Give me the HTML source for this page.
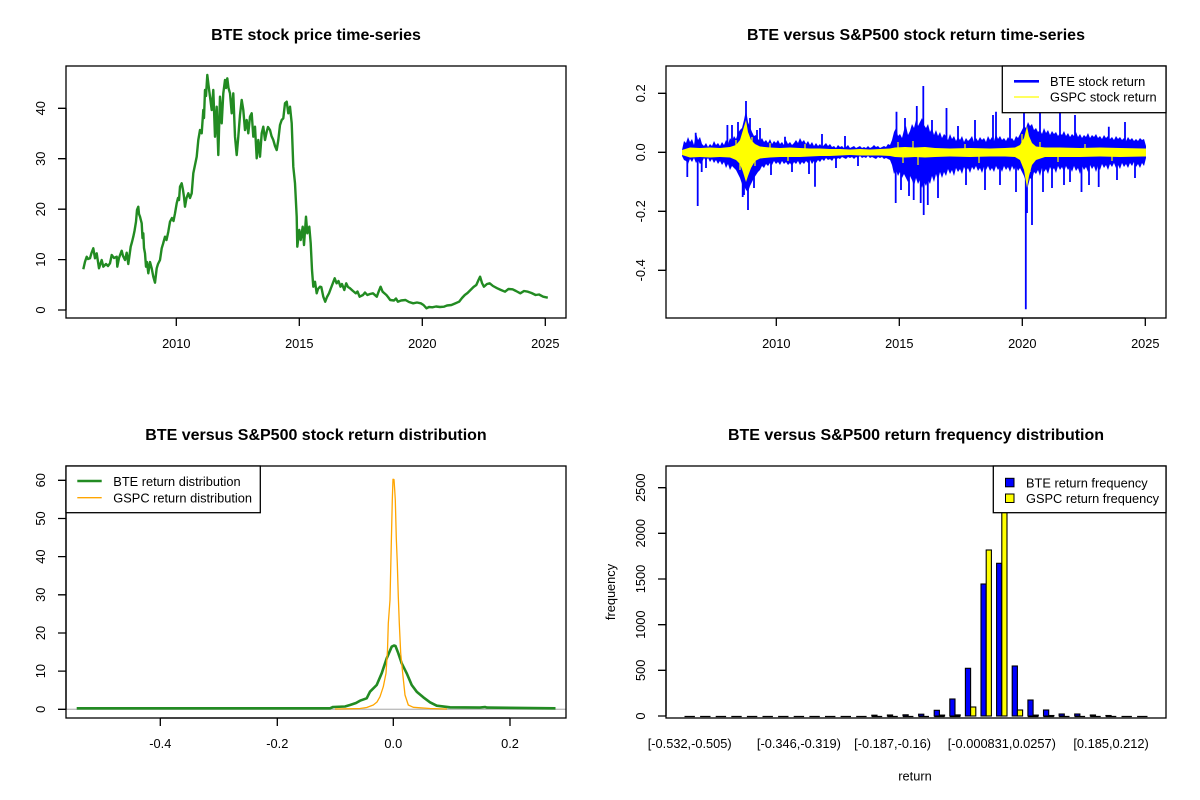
<!DOCTYPE html>
<html><head><meta charset="utf-8"><style>
html,body{margin:0;padding:0;background:#fff;}
svg{display:block;}
text{font-family:"Liberation Sans",Arial,sans-serif;font-size:12.8px;fill:#000;}
.t{font-weight:bold;font-size:16px;text-anchor:middle;}
.c{text-anchor:middle;}
</style></head><body>
<svg width="1200" height="800" viewBox="0 0 1200 800" xmlns="http://www.w3.org/2000/svg">
<rect x="0" y="0" width="1200" height="800" fill="#fff"/>
<defs>
<clipPath id="c1"><rect x="66" y="66" width="500" height="252"/></clipPath>
<clipPath id="c2"><rect x="666" y="66" width="500" height="252"/></clipPath>
<clipPath id="c3"><rect x="66" y="466" width="500" height="252"/></clipPath>
<clipPath id="c4"><rect x="666" y="466" width="500" height="252"/></clipPath>
</defs>

<!-- ============ TOP LEFT ============ -->
<text class="t" x="316" y="40">BTE stock price time-series</text>
<g clip-path="url(#c1)">
<path fill="none" stroke="#228B22" stroke-width="2.4" stroke-linejoin="round" d="M83.3,269.3 L85,261.7 L86.7,256.7 L88,259 L90,258.3 L91.5,253 L93.3,248.3 L95,258.3 L96.7,253.3 L99,268.3 L101.7,260 L103.3,266.7 L106,264 L108,266 L110,263.3 L111.7,255 L114,258 L116.7,256.7 L117.3,266.7 L119,258 L121.7,250.7 L123,256 L125,260 L126.7,252.7 L128.3,264 L130.7,246.7 L132,242 L133.3,236.7 L134.5,231 L136,221.7 L137,210 L138.3,206.7 L139,214 L140,216.7 L141.7,223.3 L142.5,238 L143.3,233.3 L144,248 L145,253.3 L146,266.7 L147,262 L148.3,273.3 L150,262 L151.7,268.3 L153.3,276.7 L155,282.7 L156.7,268.3 L158,264 L160,260 L161.7,248.3 L163,244 L165,236.7 L166.5,240 L168.3,231.7 L170,221.7 L172,218 L173.5,221 L175,213.3 L176.7,203.3 L178,198 L179,200 L180,186.7 L181.7,183.3 L183,190 L184,197 L185,206.7 L186.5,198 L188.3,193.3 L190,198 L191.7,193.3 L193.3,173.3 L195,165 L196.7,156.7 L198.3,140 L200,130 L201.7,133.3 L203.3,110 L204,118 L205,90 L206,96 L207.3,75 L208.5,85 L210,96.7 L211.7,110 L213.3,90 L215,136.7 L216.7,106.7 L218.3,155 L220,96.7 L221.7,123.3 L223.3,93.3 L225,80 L226,88 L227.3,78.3 L228.5,88 L230,93.3 L231.7,113.3 L233.3,93.3 L235,136.7 L236.7,155 L238.3,136.7 L240,115 L241.7,100 L243.3,110 L245,130 L246.7,120 L248.3,133.3 L250,116.7 L251.7,113.3 L253.3,136.7 L255,126.7 L256.7,158.3 L258.3,140 L260,156.7 L261.7,133.3 L263.3,126.7 L265,140 L266.7,131.7 L268,127 L270,130 L271.5,136 L273.3,140 L275,146 L276.7,150 L278.3,140 L280,125 L281.7,120 L283.3,118.3 L285,103.3 L286.7,101.7 L288.3,113.3 L290,106.7 L291.7,123.3 L293.3,166.7 L295,183.3 L296.7,216.7 L297.3,246.7 L299.3,230 L300.7,240 L302.7,226.7 L304,245 L306,216.7 L307.3,233.3 L309.3,226.7 L310.7,243.3 L312,270 L313.3,286.7 L315,281.7 L316.7,293.3 L318,289 L320,286.7 L321.3,287 L323.3,296.7 L325.2,301.7 L327,297 L329,293.3 L331,288 L332.8,283.3 L334.7,278.3 L336.6,283.3 L338.5,281 L340.5,286.7 L342,284 L344.3,290 L346.2,283.3 L348,287 L350,288.3 L353,291 L355.8,293.3 L357.5,291.5 L359.6,296.7 L363,295 L365,292.5 L367.3,295 L370,294 L373,293.3 L376.8,296.7 L378.5,292 L380.6,286.7 L382.6,291.7 L386.4,295 L388,297 L390.2,300 L394,300.5 L396,298.5 L397.9,301.7 L401,300.5 L405.5,300 L409,302 L413.2,303.3 L417,302.5 L420.8,303.3 L423.5,305 L426.5,308.3 L429,307 L432.3,307.3 L436,306.5 L440,307 L443.8,306.7 L447,305.5 L451.4,305 L455,303.5 L459.1,301.7 L462,298 L464.8,295 L467.5,293 L470.5,290 L473.5,287 L476.3,285 L478.5,280 L480.1,276.7 L482,283 L483.9,286.7 L487,284 L489.7,283.3 L493,286 L497.3,288.3 L501,290 L505,291.7 L508.5,289 L512.6,289.3 L516,291 L520.3,293.3 L524,291 L527.9,291.7 L531.5,293 L535.6,295 L539,294.5 L543.2,296.7 L547.8,297.7"/>
</g>
<rect x="66" y="66" width="500" height="252" fill="none" stroke="#000" stroke-width="1.3"/>
<path fill="none" stroke="#000" stroke-width="1.3" d="M176.3,318H545.3 M176.3,318V326 M299.3,318V326 M422.3,318V326 M545.3,318V326 M66,310V108.3 M66,310H58 M66,259.6H58 M66,209.2H58 M66,158.7H58 M66,108.3H58"/>
<text class="c" x="176.3" y="348">2010</text>
<text class="c" x="299.3" y="348">2015</text>
<text class="c" x="422.3" y="348">2020</text>
<text class="c" x="545.3" y="348">2025</text>
<text class="c" transform="rotate(-90 45 310)" x="45" y="310">0</text>
<text class="c" transform="rotate(-90 45 259.6)" x="45" y="259.6">10</text>
<text class="c" transform="rotate(-90 45 209.2)" x="45" y="209.2">20</text>
<text class="c" transform="rotate(-90 45 158.7)" x="45" y="158.7">30</text>
<text class="c" transform="rotate(-90 45 108.3)" x="45" y="108.3">40</text>

<!-- ============ TOP RIGHT ============ -->
<text class="t" x="916" y="40">BTE versus S&amp;P500 stock return time-series</text>
<g clip-path="url(#c2)">
<polygon fill="#0000FF" points="682,150 684,141 686,143 688,137 690,142 692,139 694,145 696,133 698,140 700,137 702,144 704,146 706,143 708,147 710,144 712,146 714,141 716,145 718,143 720,146 722,142 724,145 726,140 728,144 730,138 732,141 734,136 736,139 738,133 740,130 742,128 744,120 746,110 748,122 750,127 752,132 754,136 756,135 758,139 760,141 762,138 764,142 766,140 768,143 770,139 772,144 774,141 776,143 778,140 780,144 782,142 784,145 786,140 788,144 790,142 792,145 794,143 796,140 798,143 800,138 802,142 804,140 806,144 808,141 810,145 812,142 814,146 816,143 818,146 820,144 822,147 824,145 826,143 828,146 830,144 832,147 834,146 836,148 838,145 840,147 842,146 844,148 846,147 848,145 850,148 852,147 854,146 856,148 858,147 860,146 862,148 864,147 866,148 868,146 870,148 872,147 874,145 876,147 878,146 880,148 882,147 884,146 886,147 888,144 890,145 892,140 894,132 896,128 898,136 900,134 902,138 904,130 906,126 908,135 910,131 912,124 914,128 916,120 918,126 920,122 922,118 924,125 926,128 928,124 930,132 932,128 934,135 936,130 938,136 940,132 942,138 944,134 946,136 948,140 950,134 952,139 954,136 956,141 958,137 960,140 962,136 964,142 966,138 968,141 970,139 972,136 974,142 976,138 978,141 980,137 982,140 984,138 986,142 988,136 990,140 992,137 994,141 996,134 998,139 1000,136 1002,140 1004,138 1006,141 1008,137 1010,140 1012,138 1014,141 1016,136 1018,138 1020,134 1022,130 1024,126 1026,128 1028,122 1030,126 1032,124 1034,130 1036,128 1038,132 1040,130 1042,134 1044,128 1046,133 1048,130 1050,135 1052,131 1054,134 1056,132 1058,136 1060,133 1062,135 1064,131 1066,136 1068,133 1070,137 1072,134 1074,136 1076,132 1078,137 1080,134 1082,138 1084,135 1086,137 1088,133 1090,138 1092,135 1094,137 1096,134 1098,138 1100,136 1102,139 1104,135 1106,138 1108,136 1110,139 1112,137 1114,140 1116,136 1118,139 1120,137 1122,140 1124,138 1126,141 1128,137 1130,140 1132,138 1134,141 1136,139 1138,141 1140,138 1142,140 1144,139 1146,146 1146,158 1144,166 1142,163 1140,168 1138,164 1136,167 1134,162 1132,166 1130,163 1128,168 1126,164 1124,167 1122,163 1120,169 1118,165 1116,168 1114,163 1112,167 1110,164 1108,170 1106,165 1104,168 1102,164 1100,170 1098,166 1096,172 1094,166 1092,169 1090,165 1088,172 1086,167 1084,170 1082,166 1080,174 1078,168 1076,171 1074,166 1072,172 1070,167 1068,170 1066,166 1064,172 1062,167 1060,170 1058,166 1056,173 1054,168 1052,171 1050,167 1048,174 1046,169 1044,172 1042,168 1040,176 1038,170 1036,174 1034,172 1032,180 1030,178 1028,186 1026,182 1024,176 1022,172 1020,168 1018,171 1016,166 1014,170 1012,166 1010,172 1008,167 1006,170 1004,166 1002,172 1000,167 998,170 996,166 994,172 992,168 990,171 988,166 986,170 984,167 982,173 980,168 978,171 976,166 974,170 972,167 970,173 968,168 966,171 964,167 962,174 960,169 958,172 956,168 954,176 952,170 950,174 948,169 946,176 944,172 942,178 940,172 938,180 936,174 934,182 932,176 930,184 928,180 926,186 924,182 922,188 920,180 918,184 916,178 914,186 912,180 910,176 908,182 906,178 904,174 902,178 900,172 898,176 896,170 894,174 892,165 890,160 888,159 886,158 884,159 882,157 880,158 878,157 876,159 874,158 872,157 870,158 868,156 866,158 864,157 862,158 860,156 858,158 856,157 854,159 852,157 850,158 848,157 846,159 844,158 842,157 840,159 838,158 836,160 834,158 832,161 830,159 828,160 826,158 824,161 822,159 820,162 818,160 816,163 814,161 812,164 810,160 808,163 806,161 804,164 802,162 800,165 798,161 796,164 794,162 792,166 790,163 788,165 786,162 784,164 782,161 780,165 778,162 776,164 774,161 772,165 770,163 768,166 766,164 764,168 762,166 760,170 758,172 756,175 754,178 752,182 750,186 748,192 746,190 744,186 742,184 740,178 738,174 736,170 734,168 732,166 730,170 728,164 726,168 724,162 722,165 720,161 718,164 716,160 714,163 712,159 710,162 708,158 706,161 704,158 702,162 700,164 698,160 696,163 694,158 692,162 690,159 688,164 686,161 684,160 682,156"/>
<path fill="none" stroke="#0000FF" stroke-width="1.8" d="M687.3,152V177 M697.7,152V206 M695.7,152V132.7 M701.7,152V172 M706,152V168 M727.4,152V125 M732,152V125 M738,152V122 M742.7,152V197 M744,152V195 M746,152V101 M748,152V210 M750,152V118 M754,152V188 M757,152V130 M760,152V128 M771,152V175 M785,152V136.7 M792,152V172 M809,152V174 M815,152V186.7 M822,152V134 M836,152V168 M845,152V136 M858,152V166 M895.7,152V203 M896.5,152V111.7 M901,152V190 M905,152V118 M909,152V196 M913.7,152V200 M916.8,152V106 M920.7,152V203 M923.3,152V86 M923.7,152V215 M927.8,152V205 M932,152V120 M938,152V198 M946.5,152V108 M958,152V126 M966,152V185 M975,152V120 M985,152V190 M993,152V115 M996,152V111.7 M1000,152V185 M1010,152V118 M1016,152V192 M1024,152V110 M1025.8,152V309.3 M1027,152V213 M1032,152V225 M1040,152V100 M1043,152V192 M1052,152V188 M1060,152V108 M1064,152V185 M1070,152V182 M1075,152V115 M1081.5,152V192 M1089,152V185 M1098.7,152V187 M1108.8,152V126.7 M1117,152V180 M1125,152V122 M1135,152V178"/>
<polygon fill="#FFFF00" points="682,150 690,147.5 700,148 710,147.5 720,148 730,147 736,145 740,140 743,130 746,120 748,132 751,140 755,144 760,146.5 770,147.5 780,148 790,147.5 800,148 810,148.5 820,148.5 830,149 840,149 850,149.5 860,149 870,149.5 880,149 890,148.5 895,147.5 905,147 915,147.5 925,147 935,148 950,148.5 970,148 990,148.5 1005,148 1015,147.5 1020,145 1024,138 1027,126 1029,136 1032,143 1036,146.5 1045,147.5 1060,147.5 1080,148 1100,147.5 1120,148 1146,148.5 1146,156.5 1120,157 1100,156.5 1080,157 1060,157 1045,157 1036,160 1032,165 1029,176 1027,188 1024,170 1020,160 1015,157 1005,156.5 990,156.5 970,157 950,156.5 935,157 925,157.5 915,157 905,157.5 895,157 890,156 880,155.5 870,155.5 860,155.5 850,155 840,155.5 830,156 820,156 810,156.5 800,157 790,157 780,157 770,157.5 760,158.5 755,161 751,168 748,176 746,182 743,172 740,164 736,160 730,157.5 720,157 710,157.5 700,157 690,157.5 682,155"/>
<path fill="none" stroke="#FFFF00" stroke-width="1.2" d="M736,152V140 M740,152V170 M752,152V137 M755,152V166 M770,152V143 M788,152V161 M805,152V144 M898,152V142 M903,152V163 M913,152V141 M918,152V165 M965,152V144 M979,152V163 M1022,152V134 M1030,152V172 M1040,152V142 M1058,152V162 M1085,152V144 M1112,152V161"/>
</g>
<rect x="666" y="66" width="500" height="252" fill="none" stroke="#000" stroke-width="1.3"/>
<path fill="none" stroke="#000" stroke-width="1.3" d="M776.3,318H1145.3 M776.3,318V326 M899.3,318V326 M1022.3,318V326 M1145.3,318V326 M666,93.3V270.3 M666,93.3H658 M666,152.3H658 M666,211.3H658 M666,270.3H658"/>
<text class="c" x="776.3" y="348">2010</text>
<text class="c" x="899.3" y="348">2015</text>
<text class="c" x="1022.3" y="348">2020</text>
<text class="c" x="1145.3" y="348">2025</text>
<text class="c" transform="rotate(-90 645 93.3)" x="645" y="93.3">0.2</text>
<text class="c" transform="rotate(-90 645 152.3)" x="645" y="152.3">0.0</text>
<text class="c" transform="rotate(-90 645 211.3)" x="645" y="211.3">-0.2</text>
<text class="c" transform="rotate(-90 645 270.3)" x="645" y="270.3">-0.4</text>
<rect x="1002.3" y="66" width="163.7" height="46.7" fill="#fff" stroke="#000" stroke-width="1.3"/>
<line x1="1014" y1="81.3" x2="1039" y2="81.3" stroke="#0000FF" stroke-width="2.6"/>
<line x1="1014" y1="97" x2="1039" y2="97" stroke="#FFFF00" stroke-width="1.3"/>
<text x="1050" y="86">BTE stock return</text>
<text x="1050" y="101.7">GSPC stock return</text>

<!-- ============ BOTTOM LEFT ============ -->
<text class="t" x="316" y="440">BTE versus S&amp;P500 stock return distribution</text>
<g clip-path="url(#c3)">
<line x1="66" y1="709.3" x2="566" y2="709.3" stroke="#BEBEBE" stroke-width="1.3"/>
<path fill="none" stroke="#228B22" stroke-width="2.6" stroke-linejoin="round" d="M76.7,708.3 L330,708.3 L333,707 L345,706.5 L350,705 L356,703 L360,700.7 L366.7,698.3 L370,691.7 L376.7,685 L381.7,673.3 L386.7,658.3 L391.7,646.7 L394,645.5 L395.5,646 L398.3,653.3 L401.7,663.3 L406.7,673.3 L411.7,685 L416.7,691.7 L423.3,697.3 L430,702.3 L436.7,705.7 L450,707.3 L480,707.6 L485,707 L487,707.6 L555.5,708.3"/>
<path fill="none" stroke="#FFA500" stroke-width="1.3" stroke-linejoin="round" d="M335,709 L360,708.5 L366.7,707.5 L373.3,705 L377,702 L380,696.7 L383.3,686.7 L386,673.3 L387.5,650 L388.3,623.3 L390,600 L391.3,543.3 L392.3,500 L393,479.3 L394,479.5 L394.7,490 L395.3,500 L396.3,538.3 L397.3,563.3 L398.3,596.7 L399.3,623.3 L400.7,653.3 L402.7,673.3 L405,695 L408.3,705 L413.3,707.3 L430,708.5 L447,709"/>
</g>
<rect x="66" y="466" width="500" height="252" fill="none" stroke="#000" stroke-width="1.3"/>
<path fill="none" stroke="#000" stroke-width="1.3" d="M160.3,718H510 M160.3,718V726 M277.3,718V726 M393.3,718V726 M510,718V726 M66,480.3V709.3 M66,709.3H58 M66,671.1H58 M66,633H58 M66,594.8H58 M66,556.6H58 M66,518.5H58 M66,480.3H58"/>
<text class="c" x="160.3" y="748">-0.4</text>
<text class="c" x="277.3" y="748">-0.2</text>
<text class="c" x="393.3" y="748">0.0</text>
<text class="c" x="510" y="748">0.2</text>
<text class="c" transform="rotate(-90 45 709.3)" x="45" y="709.3">0</text>
<text class="c" transform="rotate(-90 45 671.1)" x="45" y="671.1">10</text>
<text class="c" transform="rotate(-90 45 633)" x="45" y="633">20</text>
<text class="c" transform="rotate(-90 45 594.8)" x="45" y="594.8">30</text>
<text class="c" transform="rotate(-90 45 556.6)" x="45" y="556.6">40</text>
<text class="c" transform="rotate(-90 45 518.5)" x="45" y="518.5">50</text>
<text class="c" transform="rotate(-90 45 480.3)" x="45" y="480.3">60</text>
<rect x="66" y="466" width="194.3" height="46.7" fill="#fff" stroke="#000" stroke-width="1.3"/>
<line x1="77.3" y1="481" x2="101.7" y2="481" stroke="#228B22" stroke-width="2.6"/>
<line x1="77.3" y1="497.7" x2="101.7" y2="497.7" stroke="#FFA500" stroke-width="1.3"/>
<text x="113.3" y="486.2">BTE return distribution</text>
<text x="113.3" y="502.4">GSPC return distribution</text>

<!-- ============ BOTTOM RIGHT ============ -->
<text class="t" x="916" y="440">BTE versus S&amp;P500 return frequency distribution</text>
<g clip-path="url(#c4)" stroke="#000" stroke-width="1.1">
<path fill="none" stroke-width="1.3" d="M684.5,716.5h10.4 M700.1,716.5h10.4 M715.7,716.5h10.4 M731.3,716.5h10.4 M746.9,716.5h10.4 M762.5,716.5h10.4 M778.1,716.5h10.4 M793.7,716.5h10.4 M809.4,716.5h10.4 M825,716.5h10.4 M840.6,716.5h10.4 M856.2,716.5h10.4 M871.8,716.5h10.4 M887.4,716.5h10.4 M903,716.5h10.4 M918.6,716.5h10.4 M934.2,716.5h10.4 M949.8,716.5h10.4 M1027.9,716.5h10.4 M1043.5,716.5h10.4 M1059.1,716.5h10.4 M1074.7,716.5h10.4 M1090.3,716.5h10.4 M1105.9,716.5h10.4 M1121.5,716.5h10.4 M1137.1,716.5h10.4"/>
<g fill="#0000FF">
<rect x="871.8" y="715.2" width="5.2" height="0.8"/>
<rect x="887.4" y="715" width="5.2" height="1"/>
<rect x="903" y="714.8" width="5.2" height="1.2"/>
<rect x="918.6" y="714.2" width="5.2" height="1.8"/>
<rect x="934.2" y="710.3" width="5.2" height="5.7"/>
<rect x="949.8" y="699" width="5.2" height="17"/>
<rect x="965.4" y="668.3" width="5.2" height="47.7"/>
<rect x="981" y="584" width="5.2" height="132"/>
<rect x="996.6" y="563.3" width="5.2" height="152.7"/>
<rect x="1012.2" y="666" width="5.2" height="50"/>
<rect x="1027.9" y="700" width="5.2" height="16"/>
<rect x="1043.5" y="710" width="5.2" height="6"/>
<rect x="1059.1" y="714" width="5.2" height="2"/>
<rect x="1074.7" y="714" width="5.2" height="2"/>
<rect x="1090.3" y="715" width="5.2" height="1"/>
<rect x="1105.9" y="715.5" width="5.2" height="0.5"/>
</g>
<g fill="#FFFF00">
<rect x="939.4" y="715.1" width="5.2" height="0.9"/>
<rect x="955" y="714.9" width="5.2" height="1.1"/>
<rect x="970.6" y="707" width="5.2" height="9"/>
<rect x="986.2" y="550" width="5.2" height="166"/>
<rect x="1001.8" y="462" width="5.2" height="254"/>
<rect x="1017.4" y="710" width="5.2" height="6"/>
<rect x="1033.1" y="715.1" width="5.2" height="0.9"/>
<rect x="1048.7" y="715.5" width="5.2" height="0.5"/>
</g>
</g>
<rect x="666" y="466" width="500" height="252" fill="none" stroke="#000" stroke-width="1.3"/>
<path fill="none" stroke="#000" stroke-width="1.3" d="M666,487.7V716 M666,716H658 M666,670.3H658 M666,624.7H658 M666,579H658 M666,533.3H658 M666,487.7H658"/>
<text class="c" transform="rotate(-90 645 716)" x="645" y="716">0</text>
<text class="c" transform="rotate(-90 645 670.3)" x="645" y="670.3">500</text>
<text class="c" transform="rotate(-90 645 624.7)" x="645" y="624.7">1000</text>
<text class="c" transform="rotate(-90 645 579)" x="645" y="579">1500</text>
<text class="c" transform="rotate(-90 645 533.3)" x="645" y="533.3">2000</text>
<text class="c" transform="rotate(-90 645 487.7)" x="645" y="487.7">2500</text>
<text class="c" transform="rotate(-90 615 592)" x="615" y="592">frequency</text>
<text class="c" x="689.7" y="748">[-0.532,-0.505)</text>
<text class="c" x="798.9" y="748">[-0.346,-0.319)</text>
<text class="c" x="892.6" y="748">[-0.187,-0.16)</text>
<text class="c" x="1001.8" y="748">[-0.000831,0.0257)</text>
<text class="c" x="1111.1" y="748">[0.185,0.212)</text>
<text class="c" x="915" y="780.5">return</text>
<rect x="993.3" y="466" width="172.7" height="46.7" fill="#fff" stroke="#000" stroke-width="1.3"/>
<rect x="1005.5" y="478.3" width="8.5" height="8.5" fill="#0000FF" stroke="#000" stroke-width="1"/>
<rect x="1005.5" y="494" width="8.5" height="8.5" fill="#FFFF00" stroke="#000" stroke-width="1"/>
<text x="1026" y="487.4">BTE return frequency</text>
<text x="1026" y="503">GSPC return frequency</text>
</svg>
</body></html>
